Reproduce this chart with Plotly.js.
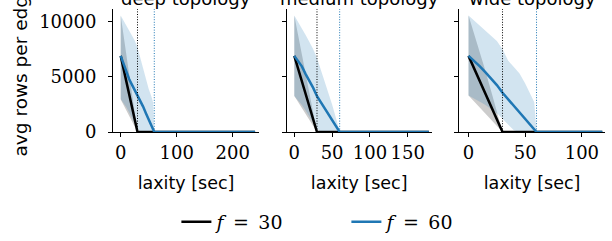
<!DOCTYPE html>
<html>
<head>
<meta charset="utf-8">
<script src="https://cdn.plot.ly/plotly-3.0.1.min.js"></script>
<style>html,body{margin:0;padding:0;background:#fff;}#chart{width:612px;height:241px;}</style>
</head>
<body>
<div id="chart"></div>
<script>
// ---- data ----
const topologies = ["deep topology", "medium topology", "wide topology"];
const fValues = [30, 60];
const seriesNames = ["<i>f</i>\u2002=\u200230", "<i>f</i>\u2002=\u200260"];
const laxity = [0, 5, 10, 15, 20, 25, 30, 35, 40, 45, 50, 55, 58, 60];
const laxityMax = [240, 178, 118];
const xTicks = [[0, 100, 200], [0, 50, 100, 150], [0, 50, 100]];
const yTicks = [0, 5000, 10000];

// deep topology
const deepMean30 = [6900, 5750, 4600, 3450, 2300, 1150, 0, 0, 0, 0, 0, 0, 0, 0, 0];
const deepLow30  = [2950, 2460, 1970, 1480, 980, 490, 0, 0, 0, 0, 0, 0, 0, 0, 0];
const deepHigh30 = [10550, 8790, 7030, 5270, 3520, 1760, 0, 0, 0, 0, 0, 0, 0, 0, 0];
const deepMean60 = [6900, 6200, 5500, 4800, 4300, 3800, 3350, 2850, 2300, 1700, 1150, 600, 250, 0, 0];
const deepLow60  = [3000, 2650, 2250, 1800, 1300, 800, 300, 0, 0, 0, 0, 0, 0, 0, 0];
const deepHigh60 = [10550, 10100, 9650, 9200, 8750, 8300, 7670, 6700, 5700, 4700, 3900, 3200, 2660, 0, 0];

// medium topology
const medMean30 = [6900, 5750, 4600, 3450, 2300, 1150, 0, 0, 0, 0, 0, 0, 0, 0, 0];
const medLow30  = [3270, 2720, 2180, 1640, 1090, 550, 0, 0, 0, 0, 0, 0, 0, 0, 0];
const medHigh30 = [10550, 8790, 7030, 5270, 3520, 1760, 0, 0, 0, 0, 0, 0, 0, 0, 0];
const medMean60 = [6900, 6450, 5950, 5250, 4650, 4000, 3250, 2700, 2100, 1550, 1000, 450, 150, 0, 0];
const medLow60  = [3270, 2900, 2450, 1950, 1400, 850, 300, 0, 0, 0, 0, 0, 0, 0, 0];
const medHigh60 = [10550, 10000, 9450, 8800, 8150, 7500, 6700, 5700, 4650, 3600, 2500, 1300, 500, 0, 0];

// wide topology
const wideMean30 = [6900, 5750, 4600, 3450, 2300, 1150, 0, 0, 0, 0, 0, 0, 0, 0, 0];
const wideLow30  = [3300, 2750, 2200, 1650, 1100, 550, 0, 0, 0, 0, 0, 0, 0, 0, 0];
const wideHigh30 = [10550, 8900, 7200, 5500, 3700, 1900, 0, 0, 0, 0, 0, 0, 0, 0, 0];
const wideMean60 = [6900, 6450, 5950, 5400, 4850, 4250, 3550, 2950, 2400, 1800, 1250, 600, 250, 0, 0];
const wideLow60  = [3300, 3050, 2750, 2450, 2100, 1700, 1200, 650, 150, 0, 0, 0, 0, 0, 0];
const wideHigh60 = [10550, 10100, 9600, 9150, 8700, 8250, 7500, 6450, 5900, 5300, 4400, 3400, 2700, 0, 0];

const panels = [
  {mean: [deepMean30, deepMean60], low: [deepLow30, deepLow60], high: [deepHigh30, deepHigh60]},
  {mean: [medMean30, medMean60], low: [medLow30, medLow60], high: [medHigh30, medHigh60]},
  {mean: [wideMean30, wideMean60], low: [wideLow30, wideLow60], high: [wideHigh30, wideHigh60]}
];

// ---- styling ----
const lineColors = ["#000000", "#1f77b4"];
const bandColors = ["rgba(0,0,0,0.2)", "rgba(31,119,180,0.2)"];
const xDomains = [[113/612, 259/612], [286.7/612, 431.7/612], [459/612, 605/612]];
const xRanges = [[-13.75, 247], [-10.05, 181.7], [-8.4, 120.4]];
const yRange = [0, 11150];
const sans = "DejaVu Sans";
const serif = "DejaVu Serif";

const traces = [];
const shapes = [];
const annotations = [];
const layout = {
  width: 612, height: 241,
  margin: {l: 0, r: 0, t: 9, b: 109},
  paper_bgcolor: "#fff", plot_bgcolor: "#fff",
  showlegend: true,
  legend: {orientation: "h", x: 0.566, xanchor: "center", y: 1 - (222 - 9) / 123, yanchor: "middle",
           font: {family: serif, size: 19, color: "#000"}, entrywidth: 125, bgcolor: "rgba(0,0,0,0)"},
  shapes: shapes, annotations: annotations
};

panels.forEach((p, i) => {
  const n = i === 0 ? "" : String(i + 1);
  const xa = "x" + n, ya = "y" + n;
  const xs = laxity.concat([laxityMax[i]]);
  for (let k = 0; k < 2; k++) {
    traces.push({x: xs, y: p.low[k], xaxis: xa, yaxis: ya, mode: "lines", line: {width: 0},
                 showlegend: false, hoverinfo: "skip"});
    traces.push({x: xs, y: p.high[k], xaxis: xa, yaxis: ya, mode: "lines", line: {width: 0},
                 fill: "tonexty", fillcolor: bandColors[k], showlegend: false, hoverinfo: "skip"});
  }
  for (let k = 0; k < 2; k++) {
    traces.push({x: xs, y: p.mean[k], xaxis: xa, yaxis: ya, mode: "lines",
                 line: {color: lineColors[k], width: 2.5}, name: seriesNames[k],
                 showlegend: i === 0, legendgroup: "g" + k});
  }
  fValues.forEach((f, k) => {
    shapes.push({type: "line", xref: xa, yref: ya + " domain", x0: f, x1: f, y0: 0, y1: 1,
                 line: {color: lineColors[k], width: 1, dash: "1px,1.6px"}, layer: "above"});
  });
  layout["xaxis" + n] = {
    domain: xDomains[i], anchor: ya, range: xRanges[i],
    tickvals: xTicks[i], ticktext: xTicks[i].map(String),
    showline: true, linecolor: "#000", linewidth: 1, mirror: false,
    ticks: "outside", ticklen: 4, tickwidth: 1, tickcolor: "#000",
    showgrid: false, zeroline: false, ticklabelstandoff: 0,
    tickfont: {family: serif, size: 18, color: "#000"},
    title: {text: "laxity [sec]", font: {family: sans, size: 17.5, color: "#000"}, standoff: 15}
  };
  layout["yaxis" + n] = {
    domain: [0, 1], anchor: xa, range: yRange, matches: i === 0 ? undefined : "y",
    tickvals: yTicks, ticktext: yTicks.map(String), showticklabels: i === 0,
    showline: true, linecolor: "#000", linewidth: 1, mirror: false,
    ticks: "outside", ticklen: 4, tickwidth: 1, tickcolor: "#000",
    showgrid: false, zeroline: false, ticklabelstandoff: 8,
    tickfont: {family: serif, size: 18, color: "#000"},
    title: i === 0 ? {text: "avg rows per edge", font: {family: sans, size: 18.5, color: "#000"}, standoff: 6} : {text: ""}
  };
  annotations.push({text: topologies[i], xref: "paper", yref: "paper",
                    x: (xDomains[i][0] + xDomains[i][1]) / 2, y: 1 - (-2 - 9) / 123,
                    xanchor: "center", yanchor: "middle", showarrow: false,
                    font: {family: sans, size: 18, color: "#000"}});
});

Plotly.newPlot("chart", traces, layout, {staticPlot: true, displayModeBar: false});
</script>
</body>
</html>
